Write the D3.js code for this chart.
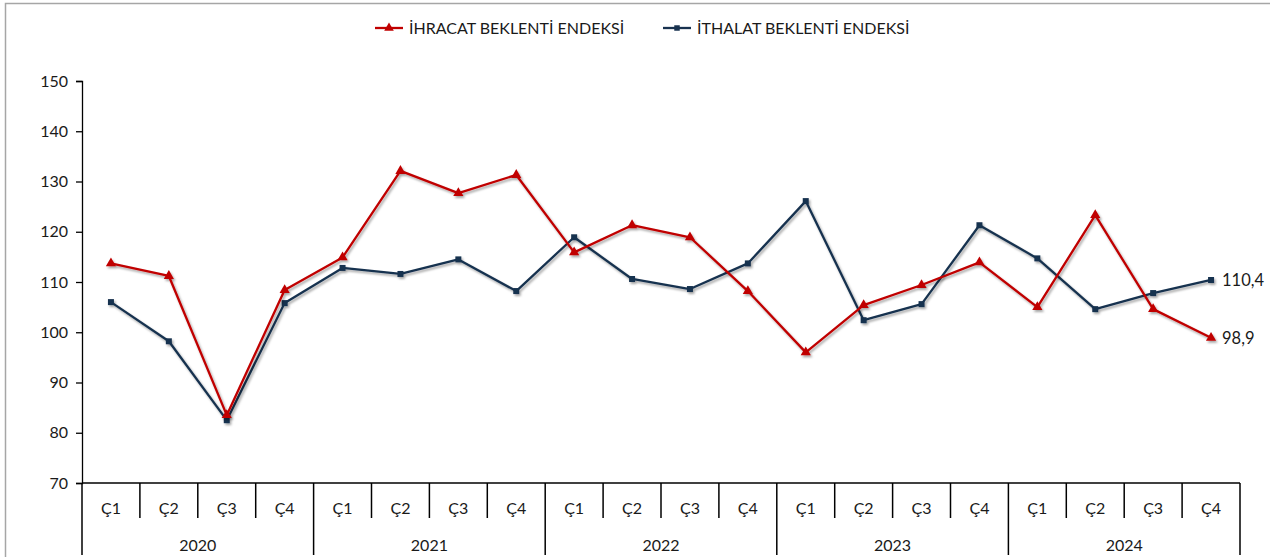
<!DOCTYPE html>
<html lang="tr">
<head>
<meta charset="UTF-8" />
<title>Beklenti Endeksleri</title>
<style>
  html, body { margin: 0; padding: 0; background: #fff; }
  svg text { font-family: Lato, "Open Sans", sans-serif; fill: #1a1a1a; }
</style>
<script src="https://d3js.org/d3.v7.min.js"></script>
</head>
<body>
<div id="chart"></div>
<script>
const years = ["2020", "2021", "2022", "2023", "2024"];
const quarters = ["Ç1", "Ç2", "Ç3", "Ç4"];
const yTicks = [70, 80, 90, 100, 110, 120, 130, 140, 150];

const ihracat = [113.7, 111.2, 83.5, 108.4, 114.9, 132.1, 127.7, 131.3, 115.9, 121.3,
                 118.9, 108.2, 96.0, 105.4, 109.4, 113.9, 105.0, 123.3, 104.6, 98.9];
const ithalat = [106.0, 98.2, 82.5, 105.8, 112.8, 111.6, 114.5, 108.2, 118.9, 110.6,
                 108.6, 113.7, 126.1, 102.4, 105.6, 121.3, 114.7, 104.6, 107.8, 110.4];

const seriesNames = ["İHRACAT BEKLENTİ ENDEKSİ", "İTHALAT BEKLENTİ ENDEKSİ"];
const lastLabels = ["98,9", "110,4"];

const width = 1270, height = 557;
const plotLeft = 82, plotRight = 1240, plotTop = 81, plotBottom = 483;
const red = "#c00000", navy = "#18324f";

const svg = d3.select("#chart").append("svg")
  .attr("width", width).attr("height", height);

const defs = svg.append("defs");
const f = defs.append("filter").attr("id", "shadow")
  .attr("x", "-5%").attr("y", "-5%").attr("width", "110%").attr("height", "120%");
f.append("feDropShadow").attr("dx", 1.5).attr("dy", 2).attr("stdDeviation", 1.2)
  .attr("flood-color", "#000").attr("flood-opacity", 0.35);

// chart area border
svg.append("rect").attr("x", 5.5).attr("y", 3.5).attr("width", 1280).attr("height", 600)
  .attr("fill", "none").attr("stroke", "#a6a6a6").attr("stroke-width", 1.5);

const cats = [];
years.forEach(yr => quarters.forEach(q => cats.push(yr + "-" + q)));

const x = d3.scaleBand().domain(cats).range([plotLeft, plotRight]);
const y = d3.scaleLinear().domain([70, 150]).range([plotBottom, plotTop]);

// y axis
const yAxis = svg.append("g").attr("transform", `translate(${plotLeft},0)`)
  .call(d3.axisLeft(y).tickValues(yTicks).tickSize(6).tickPadding(8));
yAxis.select(".domain").attr("stroke", "#000").attr("stroke-width", 1.3);
yAxis.selectAll(".tick line").attr("stroke", "#000").attr("stroke-width", 1.3);
yAxis.selectAll("text").attr("font-size", 16).attr("fill", "#1a1a1a")
  .style("font-family", "Lato, sans-serif");

// x axis (multi-level)
const xg = svg.append("g");
xg.append("line").attr("x1", plotLeft).attr("x2", plotRight).attr("y1", plotBottom).attr("y2", plotBottom)
  .attr("stroke", "#000").attr("stroke-width", 1.5);
cats.forEach((c, i) => {
  const xp = x(c);
  const isYear = i % 4 === 0;
  xg.append("line").attr("x1", xp).attr("x2", xp).attr("y1", plotBottom)
    .attr("y2", isYear ? 555 : 518).attr("stroke", "#000").attr("stroke-width", 1.5);
  xg.append("text").attr("x", xp + x.bandwidth() / 2).attr("y", 514)
    .attr("text-anchor", "middle").attr("font-size", 16).text(c.split("-")[1]);
});
xg.append("line").attr("x1", plotRight).attr("x2", plotRight).attr("y1", plotBottom).attr("y2", 555)
  .attr("stroke", "#000").attr("stroke-width", 1.5);
years.forEach(yr => {
  const x0 = x(yr + "-Ç1"), x1 = x(yr + "-Ç4") + x.bandwidth();
  xg.append("text").attr("x", (x0 + x1) / 2).attr("y", 551)
    .attr("text-anchor", "middle").attr("font-size", 16).text(yr);
});

const cx = i => x(cats[i]) + x.bandwidth() / 2;
const line = d3.line().x((d, i) => cx(i)).y(d => y(d));

function drawSeries(data, color, shape) {
  const g = svg.append("g").attr("filter", "url(#shadow)");
  g.append("path").datum(data).attr("d", line).attr("fill", "none")
    .attr("stroke", color).attr("stroke-width", 2.3).attr("stroke-linejoin", "round");
  g.selectAll("path.m").data(data).join("path").attr("class", "m")
    .attr("transform", (d, i) => `translate(${cx(i)},${y(d)})`)
    .attr("d", d3.symbol().type(shape).size(shape === d3.symbolTriangle ? 45 : 36))
    .attr("fill", color);
}

drawSeries(ithalat, navy, d3.symbolSquare);
drawSeries(ihracat, red, d3.symbolTriangle);

// end labels
svg.append("text").attr("x", 1222).attr("y", y(ihracat[19]) + 6).attr("font-size", 16.5).text(lastLabels[0]);
svg.append("text").attr("x", 1222).attr("y", y(ithalat[19]) + 6).attr("font-size", 16.5).text(lastLabels[1]);

// legend
const legend = [
  { name: seriesNames[0], color: red, shape: d3.symbolTriangle, x: 375 },
  { name: seriesNames[1], color: navy, shape: d3.symbolSquare, x: 663 }
];
legend.forEach(l => {
  const g = svg.append("g").attr("transform", `translate(${l.x},28)`);
  g.append("line").attr("x1", 0).attr("x2", 28).attr("stroke", l.color).attr("stroke-width", 2.3);
  g.append("path").attr("transform", "translate(14,0)")
    .attr("d", d3.symbol().type(l.shape).size(l.shape === d3.symbolTriangle ? 40 : 30))
    .attr("fill", l.color);
  g.append("text").attr("x", 34).attr("y", 6).attr("font-size", 16).text(l.name);
});
</script>
</body>
</html>
